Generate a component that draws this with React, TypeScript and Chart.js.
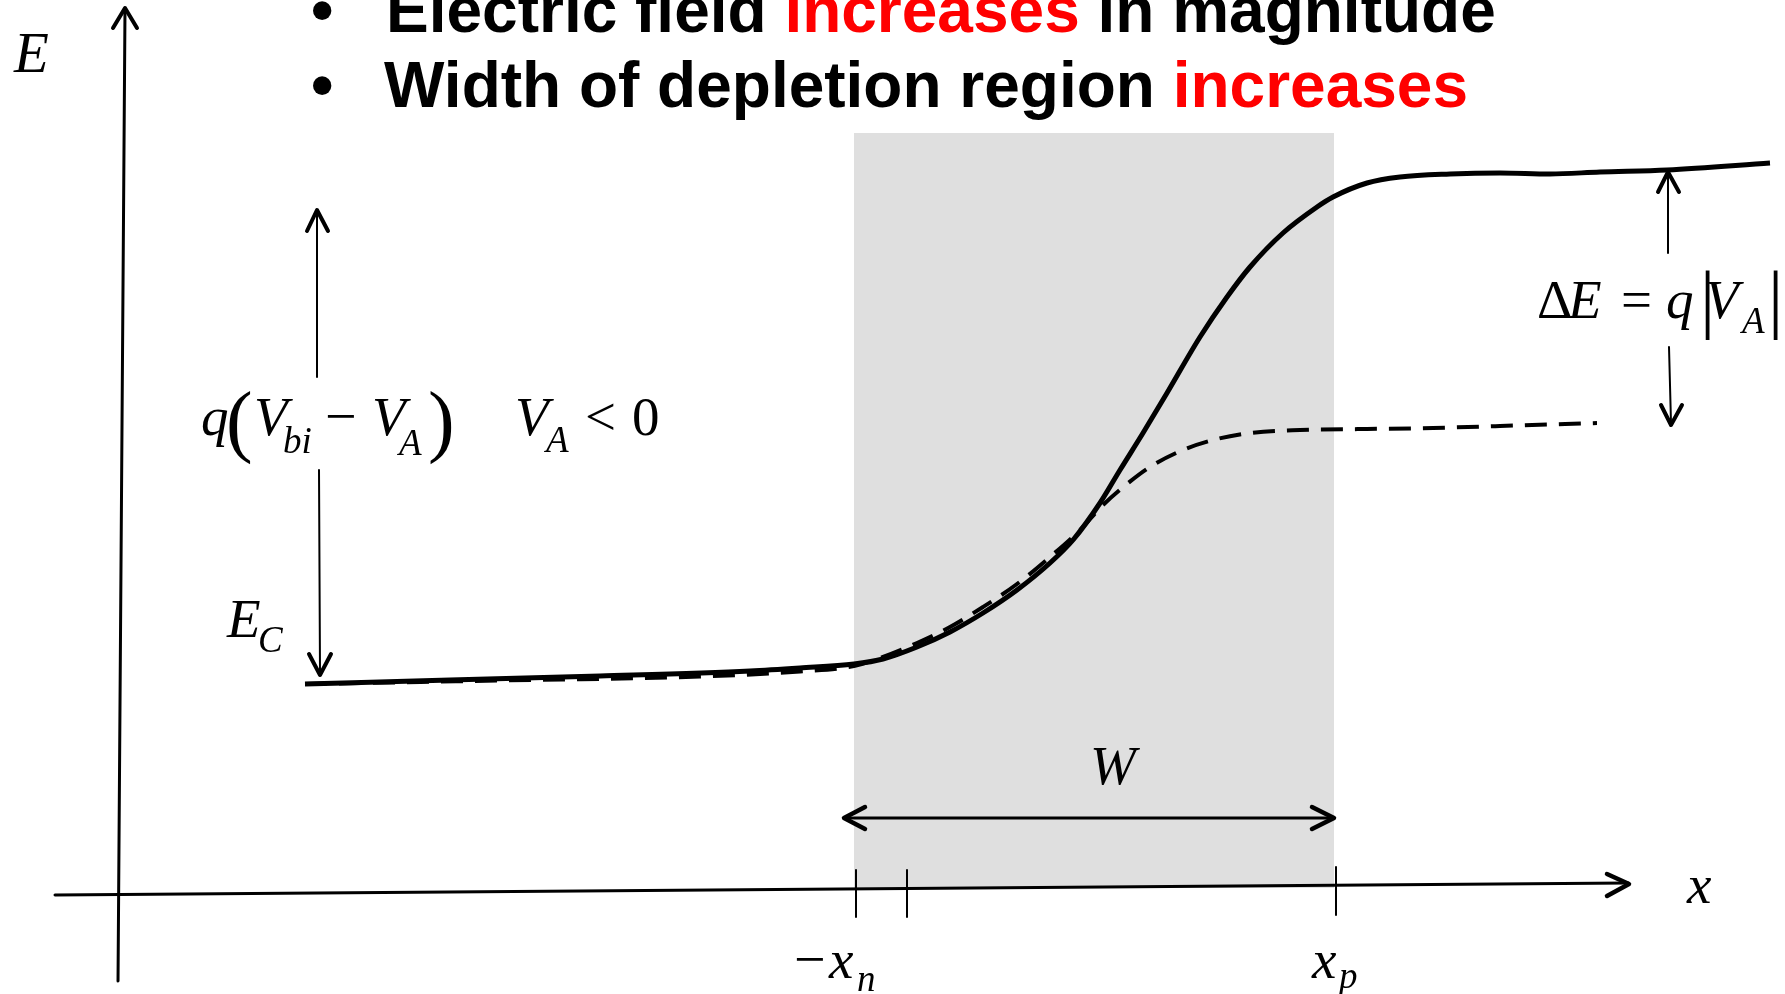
import React, { useEffect, useRef } from 'react';
import { Chart, registerables } from 'chart.js';

Chart.register(...registerables);

const W = 1785;
const H = 994;

// ---- Data (diagram units: x to the right, E measured downward on the page) ----
const bandBiasedX = [305, 450, 600, 750, 800, 854, 883, 917, 950, 983, 1017, 1050, 1073, 1100, 1120, 1143, 1167, 1200, 1227, 1250, 1283, 1317, 1333, 1367, 1400, 1450, 1500, 1550, 1600, 1667, 1770];
const bandBiasedE = [684, 680, 676, 671, 668, 664, 659, 647, 632, 613, 590, 563, 540, 503, 470, 433, 393, 337, 297, 267, 233, 207, 197, 183, 177, 174, 173, 174, 172, 170, 163];

const bandEquilX = [305, 500, 700, 800, 854, 883, 917, 950, 983, 1017, 1050, 1080, 1103, 1127, 1150, 1183, 1217, 1250, 1300, 1367, 1433, 1500, 1597];
const bandEquilE = [684, 680.5, 676.5, 671.5, 666, 657, 643, 627, 607, 584, 557, 530, 505, 484, 467, 450, 439, 433, 430, 429, 428, 426, 423];

const depletionX = [854, 1334];
const depletionTop = 133;
const depletionBottom = 888;

const energyAxis = [[118, 981], [125, 9]];
const energyAxisHead = [[113, 28], [125, 8], [137, 28]];
const positionAxis = [[55, 895], [1628, 883]];
const positionAxisHead = [[1607, 874], [1629, 884], [1607, 896]];

const barrierUp = [[317, 377], [317, 212]];
const barrierUpHead = [[307, 231], [317, 210], [328, 231]];
const barrierDown = [[319, 470], [320, 673]];
const barrierDownHead = [[309, 654], [320, 675], [331, 654]];

const deltaUp = [[1668, 253], [1668, 174]];
const deltaUpHead = [[1658, 192], [1668, 172], [1679, 192]];
const deltaDown = [[1669, 347], [1671, 423]];
const deltaDownHead = [[1661, 405], [1671, 425], [1682, 405]];

const widthArrow = [[846, 818], [1332, 818]];
const widthArrowLeft = [[865, 807], [844, 818], [865, 829]];
const widthArrowRight = [[1312, 807], [1334, 818], [1312, 829]];

const tickXn = [[856, 870], [856, 917]];
const tickMid = [[907, 870], [907, 917]];
const tickXp = [[1336, 867], [1336, 915]];

const bulletLine1 = ['Electric field ', 'increases', ' in magnitude'];
const bulletLine2 = ['Width of depletion region ', 'increases'];
const bulletColors1 = ['#000000', '#ff0000', '#000000'];
const bulletColors2 = ['#000000', '#ff0000'];

// ---- Label layout ----
const SERIF = '"Liberation Serif", "Times New Roman", serif';
const SANS = '"Liberation Sans", Arial, sans-serif';
const IT = (s: number) => `italic ${s}px ${SERIF}`;
const RM = (s: number) => `${s}px ${SERIF}`;

type Lbl = { t: string; x: number; y: number; f: string };
const mathLabels: Lbl[] = [
  { t: 'E', x: 14, y: 72, f: IT(57) },
  { t: 'x', x: 1687, y: 903, f: IT(55) },
  { t: 'W', x: 1090, y: 784, f: IT(55) },
  { t: '\u2212', x: 794, y: 978, f: RM(56) },
  { t: 'x', x: 829, y: 978, f: IT(55) },
  { t: 'n', x: 857, y: 991, f: IT(37) },
  { t: 'x', x: 1312, y: 978, f: IT(55) },
  { t: 'p', x: 1339, y: 988, f: IT(37) },
  { t: 'E', x: 227, y: 637, f: IT(55) },
  { t: 'C', x: 258, y: 652, f: IT(37) },
  { t: 'q', x: 201, y: 435, f: IT(55) },
  { t: '(', x: 226, y: 447, f: RM(80) },
  { t: 'V', x: 254, y: 435, f: IT(55) },
  { t: 'bi', x: 283, y: 453, f: IT(37) },
  { t: '\u2212', x: 325, y: 435, f: RM(56) },
  { t: 'V', x: 372, y: 435, f: IT(55) },
  { t: 'A', x: 399, y: 455, f: IT(37) },
  { t: ')', x: 428, y: 447, f: RM(80) },
  { t: 'V', x: 515, y: 435, f: IT(55) },
  { t: 'A', x: 546, y: 452, f: IT(37) },
  { t: '<', x: 585, y: 435, f: RM(55) },
  { t: '0', x: 632, y: 435, f: RM(55) },
  { t: '\u0394', x: 1537, y: 318, f: RM(55) },
  { t: 'E', x: 1568, y: 318, f: IT(55) },
  { t: '=', x: 1621, y: 318, f: RM(55) },
  { t: 'q', x: 1666, y: 318, f: IT(55) },
  { t: '|', x: 1700, y: 324, f: RM(76) },
  { t: 'V', x: 1705, y: 318, f: IT(55) },
  { t: 'A', x: 1742, y: 333, f: IT(37) },
  { t: '|', x: 1768, y: 324, f: RM(76) },
];

const textPlugin = {
  id: 'diagramText',
  afterDatasetsDraw(chart: any) {
    const { ctx, scales } = chart;
    const px = (v: number) => scales.x.getPixelForValue(v);
    const py = (v: number) => scales.y.getPixelForValue(v);
    ctx.save();
    ctx.textBaseline = 'alphabetic';
    ctx.textAlign = 'left';
    ctx.fillStyle = '#000';
    for (const l of mathLabels) {
      ctx.font = l.f;
      ctx.fillText(l.t, px(l.x), py(l.y));
    }
    ctx.font = `bold 64px ${SANS}`;
    const drawRuns = (runs: string[], colors: string[], x0: number, y0: number) => {
      let x = px(x0);
      runs.forEach((r, i) => {
        ctx.fillStyle = colors[i];
        ctx.fillText(r, x, py(y0));
        x += ctx.measureText(r).width;
      });
    };
    ctx.fillStyle = '#000';
    ctx.fillText('\u2022', px(311), py(32));
    ctx.fillText('\u2022', px(311), py(107));
    drawRuns(bulletLine1, bulletColors1, 386, 32);
    drawRuns(bulletLine2, bulletColors2, 384, 107);
    ctx.restore();
  },
};

const pts = (a: number[][]) => a.map(([x, y]) => ({ x, y }));
const zip = (xs: number[], ys: number[]) => xs.map((x, i) => ({ x, y: ys[i] }));

function seg(a: number[][], width: number, order = 5, extra: any = {}) {
  return {
    data: pts(a),
    showLine: true,
    borderColor: '#000',
    borderWidth: width,
    pointRadius: 0,
    fill: false,
    borderCapStyle: 'round',
    borderJoinStyle: 'round',
    order,
    ...extra,
  };
}

export default function App() {
  const ref = useRef<HTMLCanvasElement>(null);
  useEffect(() => {
    if (!ref.current) return;
    const datasets: any[] = [
      {
        data: depletionX.map((x) => ({ x, y: depletionTop })),
        showLine: true,
        borderColor: 'rgba(0,0,0,0)',
        borderWidth: 0,
        backgroundColor: '#dfdfdf',
        pointRadius: 0,
        fill: { value: depletionBottom },
        order: 100,
      },
      seg(energyAxis, 3, 50),
      seg(energyAxisHead, 4, 50),
      seg(positionAxis, 3, 50),
      seg(positionAxisHead, 4.5, 50),
      seg(tickXn, 2, 50),
      seg(tickMid, 2, 50),
      seg(tickXp, 2, 50),
      seg(barrierUp, 2, 40),
      seg(barrierUpHead, 4, 40),
      seg(barrierDown, 2, 40),
      seg(barrierDownHead, 4, 40),
      seg(deltaUp, 2, 40),
      seg(deltaUpHead, 4, 40),
      seg(deltaDown, 2, 40),
      seg(deltaDownHead, 4, 40),
      seg(widthArrow, 3, 40),
      seg(widthArrowLeft, 4.5, 40),
      seg(widthArrowRight, 4.5, 40),
      {
        data: zip(bandEquilX, bandEquilE),
        showLine: true,
        borderColor: '#000',
        borderWidth: 4,
        borderDash: [22, 12],
        borderCapStyle: 'butt',
        pointRadius: 0,
        fill: false,
        cubicInterpolationMode: 'monotone',
        order: 2,
      },
      {
        data: zip(bandBiasedX, bandBiasedE),
        showLine: true,
        borderColor: '#000',
        borderWidth: 5,
        borderCapStyle: 'butt',
        borderJoinStyle: 'round',
        pointRadius: 0,
        fill: false,
        cubicInterpolationMode: 'monotone',
        order: 1,
      },
    ];
    const chart = new Chart(ref.current, {
      type: 'scatter',
      data: { datasets },
      options: {
        animation: false,
        responsive: false,
        devicePixelRatio: 1,
        events: [],
        layout: { padding: 0 },
        plugins: { legend: { display: false }, tooltip: { enabled: false } },
        scales: {
          x: { type: 'linear', min: 0, max: W, display: false },
          y: { type: 'linear', min: 0, max: H, reverse: true, display: false },
        },
      },
      plugins: [textPlugin],
    } as any);
    return () => chart.destroy();
  }, []);
  return (
    <div style={{ position: 'fixed', left: 0, top: 0, width: W, height: H, background: '#fff' }}>
      <canvas ref={ref} width={W} height={H} style={{ display: 'block' }} />
    </div>
  );
}
